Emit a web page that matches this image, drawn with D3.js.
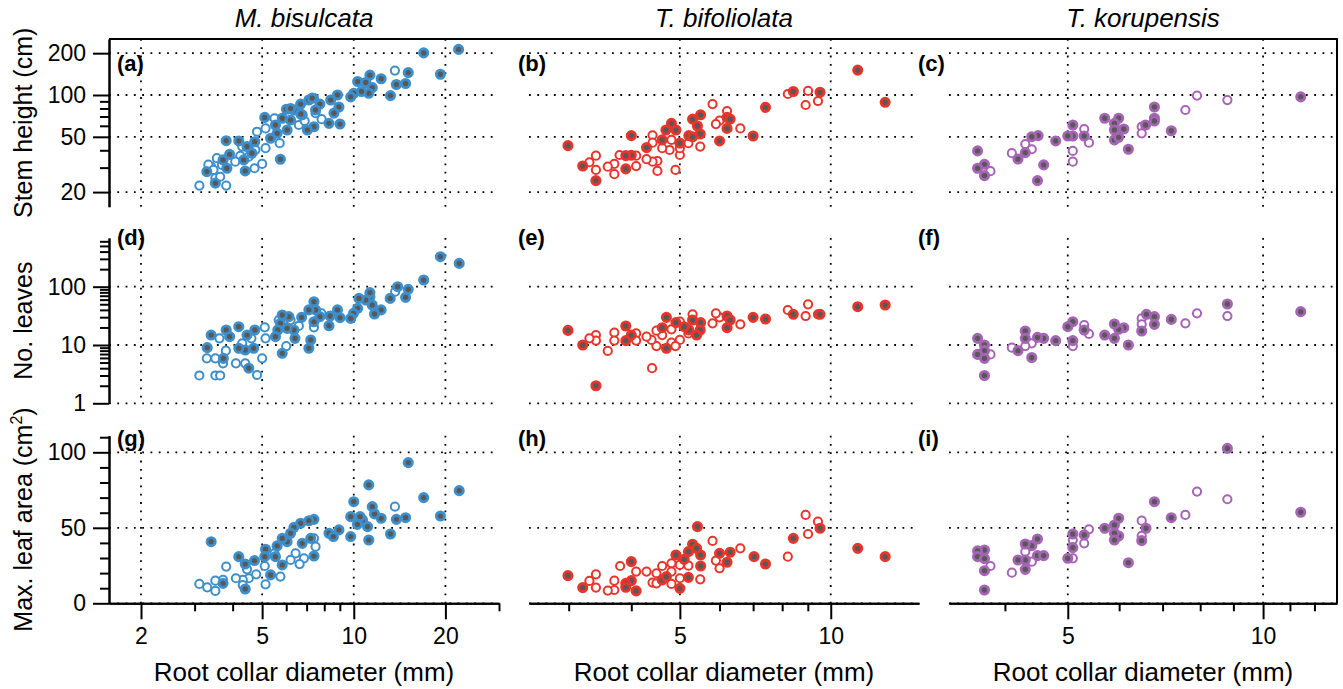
<!DOCTYPE html>
<html><head><meta charset="utf-8"><title>Seedling allometry</title>
<script src="https://cdnjs.cloudflare.com/ajax/libs/d3/7.8.5/d3.min.js"></script>
<style>
    body { margin: 0; background: #fff; }
    svg { font-family: 'Liberation Sans', Arial, sans-serif; }
</style>
</head>
<body>
<svg id="chart" width="1343" height="689"></svg>
<script>
// Species (columns) and response variables (rows)
const species = ["M. bisulcata", "T. bifoliolata", "T. korupensis"];
const rowTitles = ["Stem height (cm)", "No. leaves", "Max. leaf area (cm"];
const panelLetters = ["(a)", "(b)", "(c)", "(d)", "(e)", "(f)", "(g)", "(h)", "(i)"];

// x axes (root collar diameter, mm), log scale
const xDomains = [[1.57, 30], [2.5, 15], [3.28, 13]];
const xMajor = [[2, 5, 10, 20], [5, 10], [5, 10]];
const xMinor = [[3, 4, 6, 7, 8, 9, 30], [3, 4, 6, 7, 8, 9], [4, 6, 7, 8, 9, 11, 12]];

// y axes
const yDomains = [[15.7, 253], [1, 684], [0, 111]];
const yMajor = [[20, 50, 100, 200], [1, 10, 100], [0, 50, 100]];
const yMinor = [[30, 40, 60, 70, 80, 90],
    [2, 3, 4, 5, 6, 7, 8, 9, 20, 30, 40, 50, 60, 70, 80, 90, 200, 300, 400, 500, 600],
    [10, 20, 30, 40, 60, 70, 80, 90, 110]];

// points: [diameter, value, filled]
const aPts = [[16.97,201,1],[22.1,213,1],[19.26,141,1],[15.1,145,1],[14.8,121,1],[13.8,119,1],[13.2,99,1],[12.3,131,1],[11.3,139,1],[10.3,125,1],[10.95,123,1],[11.5,113,1],[11.2,103,1],[10.6,106,1],[10.0,103,1],[9.77,97,1],[8.84,100,1],[8.40,92,1],[8.94,82,1],[8.61,74,1],[8.29,62.5,1],[9.01,61.8,1],[7.74,86,1],[7.12,92,1],[7.49,78,1],[6.69,86,1],[6.36,78,1],[6.01,79,1],[6.77,72,1],[7.40,59.1,1],[7.04,56,1],[6.20,66,1],[6.04,56,1],[5.60,53,1],[5.53,60.8,1],[5.82,68,1],[5.10,69,1],[5.33,48.8,1],[5.74,34.5,1],[4.73,46.1,1],[4.46,42.5,1],[4.63,38.1,1],[4.19,46.7,1],[3.81,46.9,1],[3.91,37.4,1],[3.72,34.1,1],[3.83,29.7,1],[4.40,28.4,1],[3.51,23.2,1],[3.29,28.1,1],[4.35,34.1,1],[6.2,80,1],[7.3,95,1],[6.7,73,1],
    [13.65,150,0],[7.40,95,0],[7.49,74,0],[7.84,67,0],[6.60,60.8,0],[6.9,65,0],[5.49,68,0],[5.13,57.5,0],[4.81,54.4,0],[5.71,45,0],[5.13,41.4,0],[4.75,40.2,0],[5.0,31.9,0],[4.72,29.7,0],[4.52,36,0],[4.24,36.4,0],[4.08,33.1,0],[4.30,42.5,0],[3.55,35.1,0],[3.69,31.4,0],[3.40,30.5,0],[3.33,31.5,0],[3.51,25.2,0],[3.64,25.8,0],[3.11,22.3,0],[3.81,22.3,0],[3.46,28.9,0]];
const bPts = [[11.32,151,1],[12.84,88.6,1],[9.52,104.6,1],[8.42,106,1],[7.41,81.5,1],[7.00,50.7,1],[6.21,69,1],[6.30,67,1],[6.21,57.5,1],[6.00,46.7,1],[5.50,72,1],[5.30,67,1],[5.42,59.8,1],[5.49,52.4,1],[5.21,51,1],[5.3,50,1],[5.00,45,1],[4.91,56,1],[4.81,62.5,1],[4.69,56,1],[4.61,47.5,1],[4.29,41.8,1],[4.00,51,1],[4.00,36.8,1],[3.90,36.6,1],[3.90,29.4,1],[3.40,24.2,1],[3.20,30.8,1],[2.99,43.2,1],
    [9.01,107,0],[8.21,101.7,0],[8.91,84.7,0],[9.43,90.5,0],[5.81,86,0],[6.21,76.7,0],[6.00,65.3,0],[5.90,61.8,0],[6.60,57.5,0],[5.49,42.5,0],[5.20,45,0],[5.00,37,0],[5.00,41.4,0],[4.81,47.5,0],[4.77,40.2,0],[4.61,41.4,0],[4.41,51.3,0],[4.41,45.4,0],[4.51,33.5,0],[4.41,33.1,0],[4.29,34.5,0],[4.51,28.4,0],[4.90,28.9,0],[4.09,36.6,0],[4.09,30.8,0],[3.79,37,0],[3.70,31.9,0],[3.70,26.9,0],[3.59,30.5,0],[3.40,36.6,0],[3.40,28.9,0],[3.30,32.8,0]];
const cPts = [[11.43,97,1],[7.22,55.3,1],[6.80,82,1],[6.80,68,1],[6.80,65,1],[6.59,60.8,1],[6.20,40.7,1],[6.10,56.9,1],[5.99,68,1],[5.90,62.5,1],[5.90,56,1],[5.90,47.5,1],[5.99,49.6,1],[5.70,68,1],[5.30,50.7,1],[5.09,60.8,1],[5.09,50.7,1],[5.00,50.7,1],[4.79,46.7,1],[4.50,51,1],[4.40,50.1,1],[4.30,38.5,1],[4.19,34.6,1],[4.59,31.4,1],[4.49,24.2,1],[3.63,39.6,1],[3.72,31.7,1],[3.63,29.7,1],[3.72,26.3,1],
    [7.91,99,0],[8.81,92,0],[7.59,78,0],[6.50,59.1,0],[6.50,53,0],[5.30,56.9,0],[5.39,45.4,0],[5.09,39.6,0],[5.09,33.1,0],[4.30,44.4,0],[4.40,40.7,0],[4.10,38.1,0],[3.80,28.3,0]];
const dPts = [[19.26,327,1],[22.2,251,1],[16.97,130,1],[15.1,90,1],[14.8,65.6,1],[13.17,63,1],[13.94,100,1],[12.3,40,1],[11.7,34,1],[11.5,48.5,1],[11.3,67,1],[11.3,79,1],[10.95,59,1],[10.4,63,1],[10.3,42.5,1],[9.98,34.9,1],[9.77,28.6,1],[9.01,29.4,1],[8.84,40,1],[8.36,31.4,1],[8.29,21.4,1],[7.74,30.6,1],[7.49,40,1],[7.40,55.3,1],[7.12,40,1],[7.40,25,1],[6.74,29.8,1],[6.36,18.1,1],[6.41,13,1],[7.22,12.2,1],[7.12,8.8,1],[6.12,30.6,1],[6.04,19.3,1],[5.82,32.7,1],[5.74,23.5,1],[5.63,18.1,1],[5.53,13.9,1],[5.82,7.2,1],[4.73,18.1,1],[4.46,14.8,1],[4.40,8.2,1],[4.52,4,1],[4.69,8.8,1],[4.19,20.6,1],[4.19,8.8,1],[3.81,18.1,1],[3.91,13.9,1],[3.40,14.8,1],[3.30,9,1],[3.73,5.9,1],
    [13.68,82,0],[7.83,34.9,0],[7.40,20.1,0],[6.60,21.2,0],[6.20,26.8,0],[6.00,9.6,0],[5.67,26.8,0],[5.10,20.1,0],[5.13,13,0],[5.00,5.9,0],[4.81,3.06,0],[4.61,13,0],[4.30,10.7,0],[4.40,4.85,0],[4.10,4.85,0],[3.80,8,0],[3.62,13,0],[3.72,4.85,0],[3.29,5.9,0],[3.51,5.9,0],[3.51,3,0],[3.64,3,0],[3.11,3,0]];
const ePts = [[11.32,45.4,1],[12.84,48.5,1],[9.52,33.6,1],[8.42,33.6,1],[7.41,27.9,1],[7.00,29.8,1],[6.21,31.4,1],[6.30,26.8,1],[6.21,19.8,1],[5.50,24.2,1],[5.30,26.8,1],[5.49,18.1,1],[5.40,14.8,1],[5.21,18.1,1],[4.91,24.2,1],[4.70,29.8,1],[4.61,19.8,1],[5.10,20.6,1],[4.70,8.8,1],[3.90,21.2,1],[4.00,14.8,1],[3.90,11.9,1],[3.20,10,1],[3.40,2.0,1],[2.99,17.8,1],
    [9.01,49.8,0],[8.21,39.8,0],[8.91,31.4,0],[9.43,33.6,0],[6.60,22.6,0],[6.00,29.8,0],[5.90,34.9,0],[5.81,23.5,0],[5.30,33.6,0],[5.00,25.1,0],[5.00,12.2,0],[4.81,18.6,0],[4.81,11,0],[4.90,9.6,0],[4.61,14.8,0],[4.49,17.6,0],[4.49,9.6,0],[4.39,12.2,0],[4.29,13.9,0],[4.40,4,0],[4.09,15.8,0],[4.09,11.9,0],[3.70,16.3,0],[3.70,11.9,0],[3.59,7.9,0],[3.40,14.8,0],[3.40,11.9,0],[3.30,13,0],[5.20,15.8,0]];
const fPts = [[11.43,37.3,1],[8.81,50.5,1],[7.22,27.5,1],[6.80,30.6,1],[6.80,22.6,1],[6.61,33.6,1],[6.50,17.4,1],[6.20,10,1],[6.10,19.8,1],[5.99,18.6,1],[5.90,22.9,1],[5.90,13,1],[5.70,14.8,1],[5.30,18.1,1],[5.09,25.1,1],[5.00,20.6,1],[5.09,11.9,1],[4.79,11.9,1],[4.59,13,1],[4.49,13.5,1],[4.30,17.4,1],[4.30,13,1],[4.40,6.1,1],[4.19,8,1],[3.63,13,1],[3.72,10,1],[3.72,8,1],[3.63,6.9,1],[3.72,5.9,1],[3.72,3,1],
    [8.81,31.4,0],[7.91,34.9,0],[7.59,23.5,0],[6.50,28.6,0],[6.50,22.6,0],[5.30,22,0],[5.39,15.5,0],[5.09,9.6,0],[4.40,10.7,0],[4.30,9.6,0],[4.10,9,0],[3.80,6.9,0]];
const gPts = [[15.1,93.2,1],[22.2,74.6,1],[16.97,70,1],[19.26,57.8,1],[14.8,56.7,1],[13.8,55.6,1],[13.2,45.9,1],[12.3,56.3,1],[11.7,59.2,1],[11.5,64,1],[11.2,78.4,1],[11.2,41.9,1],[11.1,50.8,1],[10.68,55.2,1],[10.49,57.4,1],[10.28,52.3,1],[10.0,67.3,1],[9.77,57.4,1],[9.77,44.2,1],[8.94,48.6,1],[8.29,46.4,1],[8.57,44.2,1],[7.40,55.6,1],[7.12,54.7,1],[6.69,53,1],[6.36,50.3,1],[6.20,46.4,1],[6.77,39.7,1],[7.22,43,1],[7.40,31.3,1],[6.04,40.8,1],[5.82,43,1],[5.60,38,1],[5.53,30.9,1],[5.82,25.4,1],[5.33,18.8,1],[5.13,35.8,1],[5.10,30.9,1],[4.72,28.3,1],[4.40,26,1],[4.19,30.9,1],[4.40,9.5,1],[3.72,13.2,1],[3.40,40.8,1],
    [13.65,64,0],[7.40,43,0],[7.49,37.5,0],[6.86,29.8,0],[6.64,26,0],[6.44,33.1,0],[6.20,28.7,0],[5.74,17.7,0],[5.49,33.1,0],[5.10,24.7,0],[5.13,12.6,0],[4.78,19.2,0],[4.52,16.6,0],[4.32,15.5,0],[4.32,12.1,0],[4.10,16.6,0],[4.46,22.5,0],[3.81,24.3,0],[3.72,15.5,0],[3.51,15,0],[3.51,8.2,0],[3.30,10.6,0],[3.11,12.8,0]];
const hPts = [[11.32,36.4,1],[12.84,30.9,1],[9.52,49.7,1],[8.42,43,1],[7.41,26,1],[7.03,30.9,1],[6.30,33.8,1],[6.21,27.2,1],[6.00,33.1,1],[5.50,24.7,1],[5.50,32,1],[5.42,50.8,1],[5.30,39.1,1],[5.40,36.4,1],[5.20,34.2,1],[5.10,29.1,1],[4.91,32,1],[5.20,17.2,1],[5.00,9.9,1],[4.61,15.5,1],[4.70,17.7,1],[4.00,27.6,1],[4.00,15,1],[3.90,13.2,1],[3.90,10.6,1],[4.09,8.2,1],[3.20,10.4,1],[2.99,18.3,1],
    [8.91,58.5,0],[9.43,54.1,0],[9.01,45.9,0],[8.21,30.9,0],[6.60,36.4,0],[5.81,41.3,0],[5.90,28.3,0],[6.00,23.2,0],[5.49,15.9,0],[5.20,24.9,0],[5.00,25.4,0],[5.00,16.6,0],[4.81,26.5,0],[4.81,21,0],[4.81,12.8,0],[4.61,24.7,0],[4.49,19.9,0],[4.41,13.7,0],[4.29,21,0],[4.49,13.2,0],[4.09,21,0],[3.80,24.7,0],[3.70,15,0],[3.70,8.8,0],[3.59,8.4,0],[3.40,19.2,0],[3.40,10.4,0],[3.30,14.8,0]];
const iPts = [[8.81,102.6,1],[11.43,60.3,1],[6.80,67.3,1],[7.22,56.7,1],[6.60,49.7,1],[6.50,41.5,1],[6.20,26.9,1],[5.99,56.3,1],[5.99,44.6,1],[5.90,51.9,1],[5.90,46.4,1],[5.90,41.9,1],[5.70,49.7,1],[5.30,45.3,1],[5.09,45.9,1],[5.09,36.9,1],[5.00,29.8,1],[4.49,42.6,1],[4.40,38.2,1],[4.30,39.3,1],[4.49,31.6,1],[4.59,31.6,1],[4.30,28.7,1],[4.30,22.5,1],[4.19,28.7,1],[3.72,35.3,1],[3.63,34.7,1],[3.63,30.9,1],[3.72,29.6,1],[3.72,21.6,1],[3.72,8.8,1],
    [7.91,74,0],[8.81,68.9,0],[7.59,58.5,0],[6.50,54.7,0],[6.50,44.6,0],[5.39,49,0],[5.30,39.7,0],[5.09,41.9,0],[5.09,29.8,0],[4.40,27.6,0],[4.30,34.2,0],[4.10,20.3,0],[3.80,24.7,0]];
const panels = [[aPts, bPts, cPts], [dPts, ePts, fPts], [gPts, hPts, iPts]];

// layout
const colX = [[109, 499], [529, 919], [949, 1337]];
const rowY = [[39, 206.7], [238, 403.3], [435.7, 603.3]];
const ringColor = ["#3d8fcb", "#e8352b", "#a564b4"];
const darkFill = "#585858";
const letterX = [117, 518, 918];
const letterY = [71, 245, 446];

const svg = d3.select("#chart");

const xScales = xDomains.map((d, c) => d3.scaleLog().domain(d).range(colX[c]));
const yScales = yDomains.map((d, r) =>
    (r < 2 ? d3.scaleLog() : d3.scaleLinear()).domain(d).range([rowY[r][1], rowY[r][0]]));

const gridG = svg.append("g");
const markG = svg.append("g");
const axisG = svg.append("g");

for (let r = 0; r < 3; r++) {
    for (let c = 0; c < 3; c++) {
        const x = xScales[c], y = yScales[r];

        // dotted grid
        gridG.append("g").selectAll("line.v").data(xMajor[c]).enter().append("line")
            .attr("x1", d => x(d)).attr("x2", d => x(d))
            .attr("y1", rowY[r][0]).attr("y2", rowY[r][1]);
        gridG.append("g").selectAll("line.h").data(yMajor[r]).enter().append("line")
            .attr("x1", colX[c][0]).attr("x2", colX[c][1])
            .attr("y1", d => y(d)).attr("y2", d => y(d));

        // points: open ones first, filled drawn on top
        const pts = panels[r][c].slice().sort((p, q) => p[2] - q[2]);
        markG.append("g").selectAll("circle").data(pts).enter().append("circle")
            .attr("cx", d => x(d[0]))
            .attr("cy", d => y(d[1]))
            .attr("r", d => d[2] ? 4.1 : 4.1)
            .attr("fill", d => d[2] ? darkFill : "#fff")
            .attr("stroke", ringColor[c])
            .attr("stroke-width", d => d[2] ? 2.9 : 2.0);

        svg.append("text")
            .attr("x", letterX[c]).attr("y", letterY[r])
            .attr("font-size", 22).attr("font-weight", "bold")
            .text(panelLetters[r * 3 + c]);
    }
}

gridG.selectAll("line")
    .attr("stroke", "#000")
    .attr("stroke-width", 1.8)
    .attr("stroke-dasharray", "1.8 6.5");

function styleAxis(g) {
    g.attr("font-size", null).attr("font-family", null);
    g.selectAll("path, line").attr("stroke", "#000").attr("stroke-width", 2);
    g.selectAll("text").attr("font-size", 23).attr("fill", "#000");
}

// left axes (first column only)
for (let r = 0; r < 3; r++) {
    const y = yScales[r];
    axisG.append("g").attr("transform", `translate(${colX[0][0]},0)`)
        .call(d3.axisLeft(y).tickValues(yMinor[r]).tickSize(9).tickSizeOuter(0).tickFormat(""))
        .call(styleAxis);
    axisG.append("g").attr("transform", `translate(${colX[0][0]},0)`)
        .call(d3.axisLeft(y).tickValues(yMajor[r]).tickSize(16).tickPadding(7).tickSizeOuter(0).tickFormat(d3.format("d")))
        .call(styleAxis);

    const t = svg.append("text")
        .attr("transform", `translate(32,${(rowY[r][0] + rowY[r][1]) / 2}) rotate(-90)`)
        .attr("text-anchor", "middle")
        .attr("font-size", 25)
        .text(rowTitles[r]);
    if (r === 2) {
        t.append("tspan").attr("font-size", 16).attr("dy", -10).text("2");
        t.append("tspan").attr("dy", 10).text(")");
    }
}

// bottom axes (last row only)
for (let c = 0; c < 3; c++) {
    const x = xScales[c];
    const by = rowY[2][1];
    axisG.append("g").attr("transform", `translate(0,${by})`)
        .call(d3.axisBottom(x).tickValues(xMinor[c]).tickSize(8).tickSizeOuter(0).tickFormat(""))
        .call(styleAxis);
    axisG.append("g").attr("transform", `translate(0,${by})`)
        .call(d3.axisBottom(x).tickValues(xMajor[c]).tickSize(16).tickPadding(8).tickSizeOuter(0).tickFormat(d3.format("d")))
        .call(styleAxis);

    const cx = (colX[c][0] + colX[c][1]) / 2;
    svg.append("text")
        .attr("x", cx).attr("y", 681)
        .attr("text-anchor", "middle").attr("font-size", 26)
        .text("Root collar diameter (mm)");
    svg.append("text")
        .attr("x", cx).attr("y", 27)
        .attr("text-anchor", "middle").attr("font-size", 26).attr("font-style", "italic")
        .text(species[c]);
}

// outer frame: top and right edges
axisG.append("path")
    .attr("d", `M${colX[0][0]},${rowY[0][0]}H${colX[2][1]}V${rowY[2][1]}`)
    .attr("fill", "none").attr("stroke", "#000").attr("stroke-width", 2);
</script>
</body>
</html>
